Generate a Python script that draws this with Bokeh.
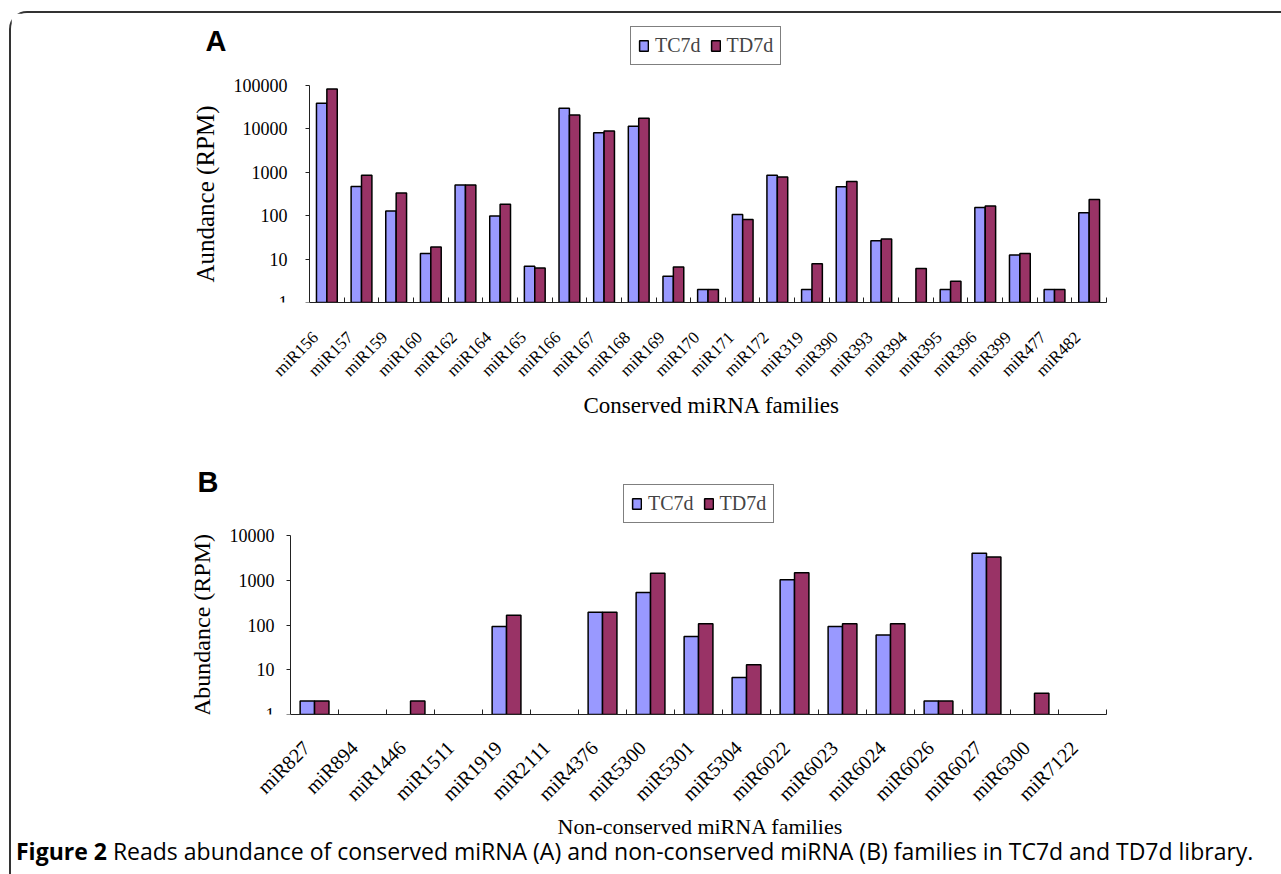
import math
from bokeh.plotting import figure
from bokeh.models import (Range1d, LinearAxis, FixedTicker, ColumnDataSource, Legend, LegendItem,
                          Label, Div, Title, NumeralTickFormatter)
from bokeh.layouts import column
from bokeh.embed import file_html
from bokeh.resources import INLINE

# ---------------- data ----------------
a_families = ["miR156", "miR157", "miR159", "miR160", "miR162", "miR164", "miR165", "miR166",
              "miR167", "miR168", "miR169", "miR170", "miR171", "miR172", "miR319", "miR390",
              "miR393", "miR394", "miR395", "miR396", "miR399", "miR477", "miR482"]
a_tc7d = [39000, 470, 128, 13.5, 510, 98, 6.8, 30000, 8100, 11500, 4.0, 2, 107, 850, 2, 465,
          26.5, 0, 2, 155, 12.5, 2, 117]
a_td7d = [83000, 850, 333, 19, 510, 183, 6.2, 21000, 8900, 17600, 6.6, 2, 82, 780, 7.8, 610,
          29, 6.1, 3.1, 167, 13.4, 2, 235]
a_yticks = [1, 10, 100, 1000, 10000, 100000]

b_families = ["miR827", "miR894", "miR1446", "miR1511", "miR1919", "miR2111", "miR4376",
              "miR5300", "miR5301", "miR5304", "miR6022", "miR6023", "miR6024", "miR6026",
              "miR6027", "miR6300", "miR7122"]
b_tc7d = [2, 0, 0, 0, 92, 0, 192, 530, 55, 6.7, 1030, 92, 60, 2, 4000, 0, 0]
b_td7d = [2, 0, 2, 0, 165, 0, 192, 1430, 107, 13, 1480, 107, 107, 2, 3300, 3, 0]
b_yticks = [1, 10, 100, 1000, 10000]

series_names = ["TC7d", "TD7d"]
series_colors = ["#9999FF", "#993366"]

SERIF = "Liberation Serif"
BAR_W = 0.30
W = 1266          # canvas width of each panel
ORG_X = 11        # page x of the canvases' left edge


def panel(families, tc, td, yticks, ylabel, xlabel, letter, height, frame_left, axis_x, axis_end,
          frame_top, top_tick_y, axis_bottom, legend_xy, letter_xy, ylabel_size, tick_standoff,
          cat_font, cat_standoff, cat_shift, title_size, title_left, title_standoff):
    n = len(families)
    unit = (axis_end - axis_x) / n
    x0 = -(axis_x - frame_left) / unit
    fw = int(round(axis_end - frame_left))
    fh = int(round(axis_bottom - frame_top))
    px_dec = (axis_bottom - top_tick_y) / math.log10(yticks[-1] / yticks[0])
    y_end = yticks[0] * 10 ** (fh / px_dec)
    left = int(round(frame_left - ORG_X))
    p = figure(x_range=Range1d(x0, n), y_range=Range1d(yticks[0], y_end),
               y_axis_type="log", x_axis_location=None, frame_width=fw, frame_height=fh,
               min_border_left=left, min_border_top=int(round(frame_top)),
               min_border_right=W - left - fw,
               min_border_bottom=height - int(round(frame_top)) - fh,
               output_backend="svg", toolbar_location=None)
    p.outline_line_color = None
    p.grid.visible = False
    p.background_fill_color = "white"
    p.border_fill_color = "white"

    renderers = []
    for vals, off, col in zip((tc, td), (-BAR_W / 2, BAR_W / 2), series_colors):
        xs = [i + 0.5 + off for i, v in enumerate(vals) if v > 0]
        top_v = [v for v in vals if v > 0]
        src = ColumnDataSource(dict(x=xs, top=top_v))
        r = p.vbar(x="x", top="top", bottom=yticks[0], width=BAR_W, source=src,
                   fill_color=col, line_color="black", line_width=1.5)
        renderers.append(r)

    # y axis, pinned at x = 0 and limited to the tick range
    ya = p.yaxis[0]
    ya.fixed_location = 0
    ya.bounds = (yticks[0], yticks[-1])
    ya.ticker = FixedTicker(ticks=yticks)
    ya.formatter = NumeralTickFormatter(format="0")
    ya.minor_tick_line_color = None
    ya.major_tick_in = 0
    ya.major_tick_out = 4
    ya.major_label_standoff = tick_standoff
    ya.major_label_text_font = SERIF
    ya.major_label_text_font_size = "18px"
    ya.major_label_text_color = "black"
    ya.axis_line_color = "#222222"
    ya.major_tick_line_color = "#222222"
    ya.axis_label = ylabel
    ya.axis_label_text_font = SERIF
    ya.axis_label_text_font_size = ylabel_size
    ya.axis_label_text_font_style = "normal"
    ya.axis_label_text_color = "black"
    ya.axis_label_standoff = 12

    # x axis: category names, separators (minor ticks) at category boundaries
    label_pos = [i + 0.5 - cat_shift for i in range(n)]
    xa = LinearAxis(ticker=FixedTicker(ticks=label_pos, minor_ticks=list(range(1, n + 1))),
                    bounds=(0, n),
                    major_label_overrides={c: f for c, f in zip(label_pos, families)},
                    axis_line_color="#222222", major_tick_line_color=None,
                    minor_tick_line_color="#222222", minor_tick_in=5, minor_tick_out=0,
                    major_tick_in=0, major_tick_out=0,
                    major_label_orientation=math.pi / 4, major_label_standoff=cat_standoff,
                    major_label_text_font=SERIF, major_label_text_font_size=cat_font,
                    major_label_text_color="black")
    p.add_layout(xa, "below")
    p.add_layout(Title(text=xlabel, align="left", offset=title_left - frame_left,
                       standoff=title_standoff, text_font=SERIF, text_font_size=title_size,
                       text_font_style="normal", text_color="black"), "below")

    legend = Legend(items=[LegendItem(label=series_names[0], renderers=[renderers[0]]),
                           LegendItem(label=series_names[1], renderers=[renderers[1]])],
                    location=(legend_xy[0] - frame_left, axis_bottom - legend_xy[1]),
                    orientation="horizontal", margin=0, padding=7,
                    spacing=9, label_standoff=6, glyph_width=11, glyph_height=13,
                    label_width=0, label_height=23,
                    label_text_font=SERIF, label_text_font_size="20px",
                    border_line_color="black", border_line_width=1,
                    background_fill_color="white", background_fill_alpha=1)
    p.add_layout(legend)

    p.add_layout(Label(x=letter_xy[0] - frame_left, y=axis_bottom - letter_xy[1],
                       x_units="screen", y_units="screen",
                       text=letter, text_font="Liberation Sans", text_font_style="bold",
                       text_font_size="29px", text_baseline="alphabetic", text_color="black"))
    return p


# panel A canvas: page y 13..443 ; panel B canvas: page y 443..844
pA = panel(a_families, a_tc7d, a_td7d, a_yticks, "Aundance (RPM)", "Conserved miRNA families",
           "A", height=430, frame_left=190, axis_x=309, axis_end=1105.7,
           frame_top=7, top_tick_y=72, axis_bottom=289,
           legend_xy=(630, 52), letter_xy=(205, 27), ylabel_size="25px",
           tick_standoff=18, cat_font="17px", cat_standoff=32, cat_shift=0.33,
           title_size="23px", title_left=583, title_standoff=3)
pB = panel(b_families, b_tc7d, b_td7d, b_yticks, "Abundance (RPM)",
           "Non-conserved miRNA families", "B", height=401, frame_left=190, axis_x=290,
           axis_end=1105.6, frame_top=22, top_tick_y=92, axis_bottom=271,
           legend_xy=(623, 80), letter_xy=(197, 38), ylabel_size="24px",
           tick_standoff=12, cat_font="20px", cat_standoff=30, cat_shift=0.17,
           title_size="22px", title_left=557, title_standoff=-7)

caption = Div(text="<b>Figure 2</b> Reads abundance of conserved miRNA (A) and non-conserved "
                   "miRNA (B) families in TC7d and TD7d library.",
              width=W, height=26,
              styles={"font-family": "Open Sans", "font-size": "23px", "line-height": "24px",
                      "padding-left": "0px", "white-space": "nowrap", "color": "black",
                      "position": "relative", "top": "-10px"})

layout = column(pA, pB, caption, margin=(11, 0, 0, 9),
                styles={"border-top": "2px solid #333333", "border-left": "2px solid #333333",
                        "border-top-left-radius": "18px", "background": "white"})

open("out.html", "w").write(file_html(layout, INLINE))
